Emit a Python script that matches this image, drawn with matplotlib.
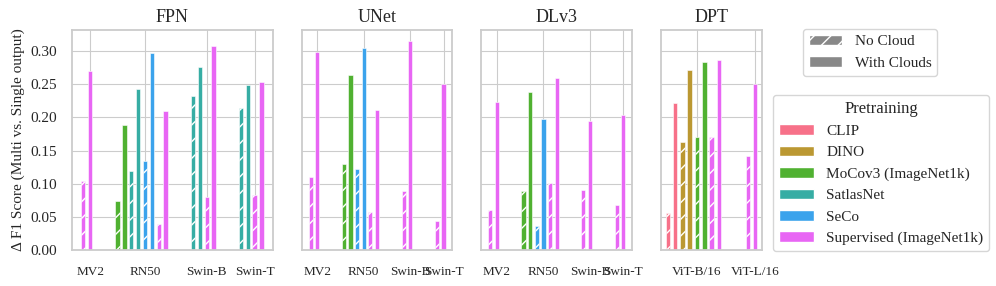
import numpy as np
import matplotlib.pyplot as plt
import seaborn as sns
from matplotlib.patches import Patch

sns.set_style("whitegrid")
plt.rcParams['font.family'] = ['Liberation Serif', 'DejaVu Serif']
plt.rcParams['hatch.linewidth'] = 1.0

methods = ["CLIP", "DINO", "MoCov3 (ImageNet1k)", "SatlasNet", "SeCo", "Supervised (ImageNet1k)"]
colors = sns.color_palette("husl", 6)

# method index: 0 CLIP, 1 DINO, 2 MoCov3, 3 SatlasNet, 4 SeCo, 5 Supervised
fpn_backbone = ["MV2", "RN50", "RN50", "RN50", "RN50", "Swin-B", "Swin-B", "Swin-T", "Swin-T"]
fpn_method = [5, 2, 3, 4, 5, 3, 5, 3, 5]
fpn_no_cloud = [0.104, 0.074, 0.119, 0.134, 0.039, 0.232, 0.080, 0.214, 0.083]
fpn_with_clouds = [0.270, 0.188, 0.243, 0.297, 0.209, 0.276, 0.308, 0.249, 0.254]

unet_backbone = ["MV2", "RN50", "RN50", "RN50", "Swin-B", "Swin-T"]
unet_method = [5, 2, 4, 5, 5, 5]
unet_no_cloud = [0.110, 0.130, 0.122, 0.058, 0.089, 0.043]
unet_with_clouds = [0.299, 0.264, 0.304, 0.211, 0.316, 0.251]

dlv3_backbone = ["MV2", "RN50", "RN50", "RN50", "Swin-B", "Swin-T"]
dlv3_method = [5, 2, 4, 5, 5, 5]
dlv3_no_cloud = [0.060, 0.089, 0.036, 0.101, 0.090, 0.068]
dlv3_with_clouds = [0.223, 0.239, 0.197, 0.259, 0.194, 0.203]

dpt_backbone = ["ViT-B/16", "ViT-B/16", "ViT-B/16", "ViT-B/16", "ViT-L/16"]
dpt_method = [0, 1, 2, 5, 5]
dpt_no_cloud = [0.056, 0.163, 0.171, 0.171, 0.142]
dpt_with_clouds = [0.222, 0.271, 0.284, 0.287, 0.250]

panels = [
    ("FPN", fpn_backbone, fpn_method, fpn_no_cloud, fpn_with_clouds),
    ("UNet", unet_backbone, unet_method, unet_no_cloud, unet_with_clouds),
    ("DLv3", dlv3_backbone, dlv3_method, dlv3_no_cloud, dlv3_with_clouds),
    ("DPT", dpt_backbone, dpt_method, dpt_no_cloud, dpt_with_clouds),
]

fig = plt.figure(figsize=(9.96, 2.86), dpi=100)
gs = fig.add_gridspec(1, 4, width_ratios=[201, 151, 151, 101], left=0.0723, right=0.765,
                      bottom=0.126, top=0.895, wspace=0.192)

gap = 3
bw = 0.62
axes = []
for i, (title, backbone, method, nc, wc) in enumerate(panels):
    ax = fig.add_subplot(gs[0, i], sharey=axes[0] if axes else None)
    axes.append(ax)
    order = list(dict.fromkeys(backbone))
    start = 0
    ticks = []
    for bb in order:
        rows = [k for k in range(len(backbone)) if backbone[k] == bb]
        x = start
        for k in rows:
            c = colors[method[k]]
            ax.bar(x, nc[k], width=bw, color=c, edgecolor='white', linewidth=0.4, hatch='//')
            ax.bar(x + 1, wc[k], width=bw, color=c, edgecolor='white', linewidth=0.4)
            x += 2
        n = 2 * len(rows)
        ticks.append(start + n / 2)
        start += n + gap
    ax.set_xticks(ticks)
    ax.set_xticklabels(order, fontsize=9.5)
    ax.set_title(title, fontsize=13)
    ax.tick_params(axis='x', pad=8)
    ax.tick_params(axis='y', pad=7, labelsize=11)
    for s in ax.spines.values():
        s.set_color('#cccccc')
        s.set_linewidth(1.3)
    if i > 0:
        plt.setp(ax.get_yticklabels(), visible=False)

axes[0].set_yticks(np.arange(0, 0.31, 0.05))
axes[0].yaxis.set_major_formatter(plt.FormatStrFormatter('%.2f'))
axes[0].set_ylabel("Δ F1 Score (Multi vs. Single output)", fontsize=11)

cloud_handles = [Patch(facecolor='#888888', edgecolor='white', hatch='//', label='No Cloud'),
                 Patch(facecolor='#888888', edgecolor='white', label='With Clouds')]
leg1 = fig.legend(handles=cloud_handles, loc='upper center', bbox_to_anchor=(0.8735, 0.927),
                  fontsize=11, handlelength=2.2, frameon=True, edgecolor='#cccccc')

method_handles = [Patch(facecolor=colors[j], edgecolor='white', label=methods[j]) for j in range(6)]
leg2 = fig.legend(handles=method_handles, title='Pretraining', loc='upper left',
                  bbox_to_anchor=(0.768, 0.696), fontsize=11, title_fontsize=12,
                  handlelength=2.3, frameon=True, edgecolor='#cccccc')

fig.savefig("out.png", dpi=100)
